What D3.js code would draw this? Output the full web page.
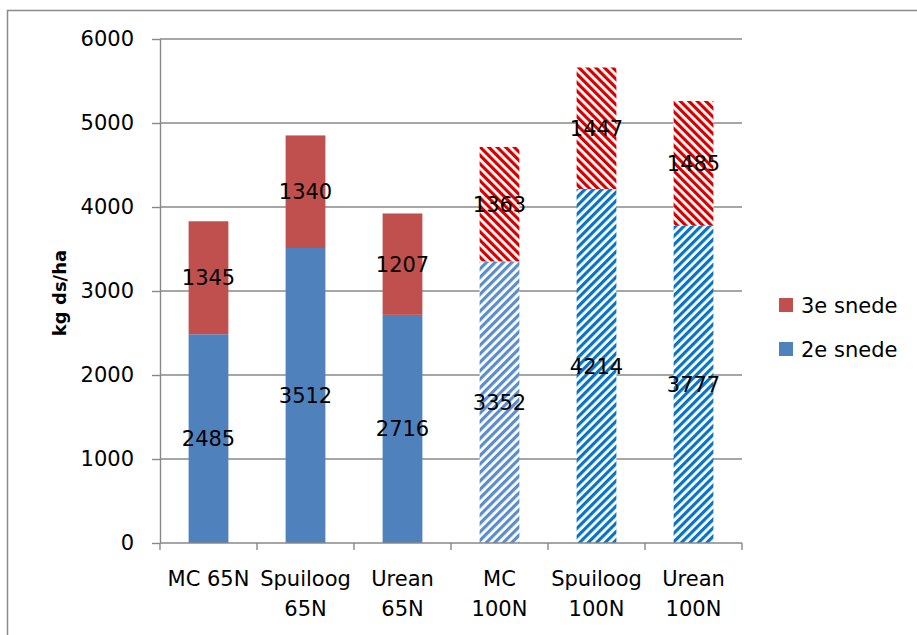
<!DOCTYPE html>
<html>
<head>
  <script src="https://d3js.org/d3.v7.min.js"></script>
  <style>
    body { margin: 0; background: #fff; }
    text { font-family: "DejaVu Sans", sans-serif; fill: #000; }
  </style>
</head>
<body>
  <script>
    // Data
    const categories = ["MC 65N", "Spuiloog 65N", "Urean 65N", "MC 100N", "Spuiloog 100N", "Urean 100N"];
    const categoryLines = [["MC 65N"], ["Spuiloog", "65N"], ["Urean", "65N"], ["MC", "100N"], ["Spuiloog", "100N"], ["Urean", "100N"]];
    const snede2 = [2485, 3512, 2716, 3352, 4214, 3777];
    const snede3 = [1345, 1340, 1207, 1363, 1447, 1485];
    const seriesNames = ["3e snede", "2e snede"];
    const yTicks = [0, 1000, 2000, 3000, 4000, 5000, 6000];

    const W = 917, H = 635;
    const plot = {left: 160, right: 742, top: 39, bottom: 543};

    const svg = d3.select("body")
      .append("svg")
        .attr("width", W)
        .attr("height", H);

    // Hatch patterns
    const defs = svg.append("defs");
    function hatch(id, color, angle) {
      const p = defs.append("pattern")
        .attr("id", id)
        .attr("patternUnits", "userSpaceOnUse")
        .attr("width", 6)
        .attr("height", 6)
        .attr("patternTransform", `rotate(${angle})`);
      p.append("rect").attr("width", 6).attr("height", 6).attr("fill", "#fff");
      p.append("rect").attr("width", 3.2).attr("height", 6).attr("fill", color);
    }
    hatch("redHatch", "#d40000", -45);
    hatch("blueHatch", "#0a74c4", 45);
    hatch("lightBlueHatch", "#5b8ccb", 45);

    // Outer border
    svg.append("rect")
      .attr("x", 7.5).attr("y", 10.5)
      .attr("width", 930).attr("height", 650)
      .attr("fill", "none")
      .attr("stroke", "#8a8a8a")
      .attr("stroke-width", 1.5);

    // Scales
    const x = d3.scaleBand()
      .domain(categories)
      .range([plot.left, plot.right])
      .padding(0);
    const barW = x.bandwidth() * 0.41;

    const y = d3.scaleLinear()
      .domain([0, 6000])
      .range([plot.bottom, plot.top]);

    // Gridlines
    svg.append("g")
      .selectAll("line")
      .data(yTicks.filter(d => d > 0))
      .join("line")
        .attr("x1", plot.left).attr("x2", plot.right)
        .attr("y1", d => y(d)).attr("y2", d => y(d))
        .attr("stroke", "#888")
        .attr("stroke-width", 1.4);

    // Fills
    function fill2(i) {
      if (i < 3) return "#4f81bd";
      return i === 3 ? "url(#lightBlueHatch)" : "url(#blueHatch)";
    }
    function fill3(i) {
      return i < 3 ? "#c0504d" : "url(#redHatch)";
    }

    // Bars
    const bars = svg.append("g");
    categories.forEach(function(c, i) {
      const bx = x(c) + (x.bandwidth() - barW) / 2;
      bars.append("rect")
        .attr("x", bx)
        .attr("y", y(snede2[i]))
        .attr("width", barW)
        .attr("height", y(0) - y(snede2[i]))
        .attr("fill", fill2(i));
      bars.append("rect")
        .attr("x", bx)
        .attr("y", y(snede2[i] + snede3[i]))
        .attr("width", barW)
        .attr("height", y(snede2[i]) - y(snede2[i] + snede3[i]))
        .attr("fill", fill3(i));
    });

    // Data labels
    const labels = svg.append("g")
      .attr("font-size", 21)
      .attr("text-anchor", "middle");
    categories.forEach(function(c, i) {
      const cx = x(c) + x.bandwidth() / 2;
      labels.append("text")
        .attr("x", cx)
        .attr("y", y(snede2[i] / 2))
        .attr("dy", "0.36em")
        .text(snede2[i]);
      labels.append("text")
        .attr("x", cx)
        .attr("y", y(snede2[i] + snede3[i] / 2))
        .attr("dy", "0.36em")
        .text(snede3[i]);
    });

    // Y axis
    const yAxis = svg.append("g")
      .attr("transform", `translate(${plot.left},0)`)
      .call(d3.axisLeft(y).tickValues(yTicks).tickFormat(d3.format("d"))
        .tickSize(8).tickSizeOuter(0).tickPadding(18));
    yAxis.selectAll("path, line").attr("stroke", "#888").attr("stroke-width", 1.4);
    yAxis.selectAll("text")
      .attr("font-size", 21)
      .attr("font-family", "DejaVu Sans, sans-serif")
      .attr("fill", "#000");

    // X axis line and ticks at category borders
    svg.append("line")
      .attr("x1", plot.left).attr("x2", plot.right)
      .attr("y1", plot.bottom).attr("y2", plot.bottom)
      .attr("stroke", "#888").attr("stroke-width", 1.4);
    const borders = categories.map(c => x(c)).concat([plot.right]);
    svg.append("g")
      .selectAll("line")
      .data(borders)
      .join("line")
        .attr("x1", d => d).attr("x2", d => d)
        .attr("y1", plot.bottom).attr("y2", plot.bottom + 7)
        .attr("stroke", "#888").attr("stroke-width", 1.4);

    // X labels
    const xl = svg.append("g")
      .attr("font-size", 21)
      .attr("text-anchor", "middle");
    categories.forEach(function(c, i) {
      const t = xl.append("text")
        .attr("x", x(c) + x.bandwidth() / 2)
        .attr("y", 586);
      categoryLines[i].forEach(function(line, j) {
        t.append("tspan")
          .attr("x", x(c) + x.bandwidth() / 2)
          .attr("dy", j === 0 ? 0 : 30)
          .text(line);
      });
    });

    // Y title
    svg.append("text")
      .attr("transform", "translate(66,293) rotate(-90)")
      .attr("text-anchor", "middle")
      .attr("font-size", 18)
      .attr("font-weight", "bold")
      .text("kg ds/ha");

    // Legend
    const legendColors = ["#c0504d", "#4f81bd"];
    const legend = svg.append("g").attr("transform", "translate(779,298)");
    seriesNames.forEach(function(name, i) {
      const row = legend.append("g")
        .attr("transform", `translate(0, ${i * 44})`);
      row.append("rect")
        .attr("width", 14)
        .attr("height", 14)
        .attr("fill", legendColors[i]);
      row.append("text")
        .attr("x", 22)
        .attr("y", 7)
        .attr("dy", "0.36em")
        .attr("font-size", 21)
        .text(name);
    });
  </script>
</body>
</html>
